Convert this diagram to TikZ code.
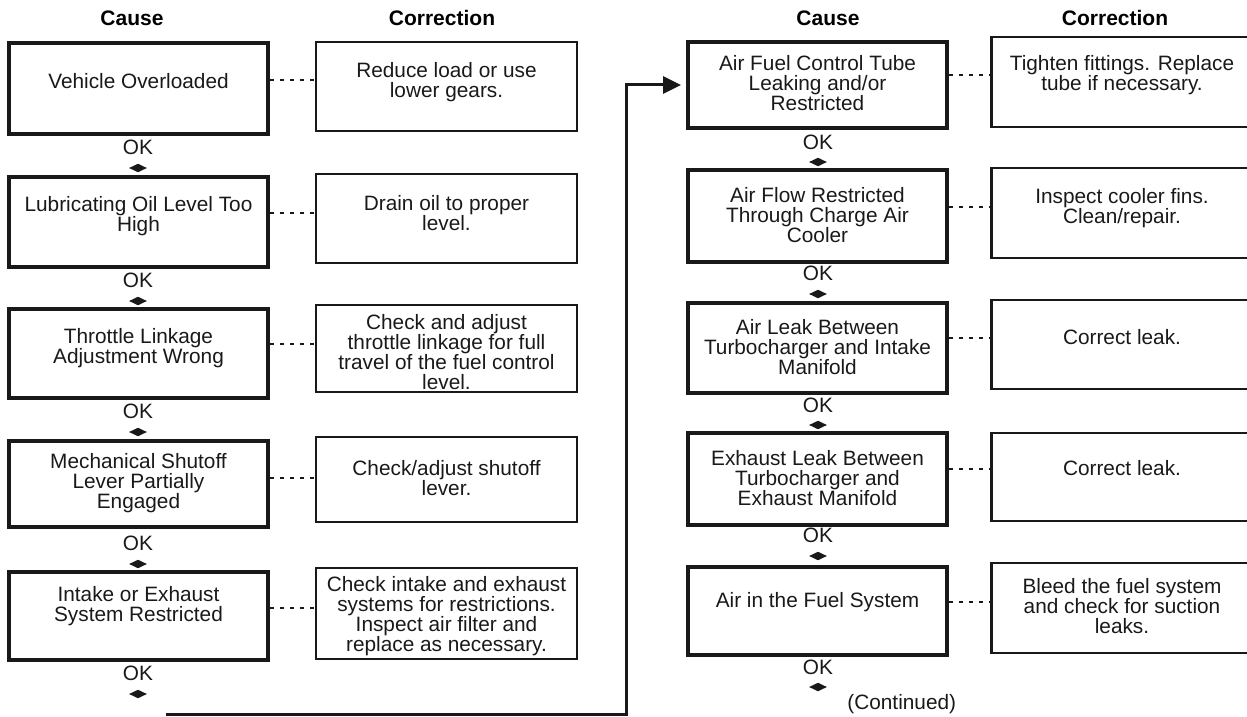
\documentclass[tikz,border=0pt]{standalone}
\usepackage{fontspec}
\setmainfont{Liberation Sans}
\usetikzlibrary{shapes.geometric,arrows.meta}
\begin{document}
\begin{tikzpicture}[x=0.5pt,y=-0.5pt,
  causebox/.style={draw=black!90, line width=2pt, minimum width=129.5pt, inner sep=0pt},
  corrbox/.style={draw=black!90, line width=1.1pt, minimum width=130.5pt, inner sep=0pt},
  txt/.style={font=\fontsize{10.4}{10}\selectfont, align=center, inner sep=0pt, text=black!90},
  head/.style={font=\fontsize{10.5}{11}\selectfont\bfseries, inner sep=0pt},
  oklbl/.style={font=\fontsize{10.4}{10}\selectfont, inner sep=0pt, text=black!90},
  okdia/.style={diamond, fill=black!90, draw=none, minimum width=9pt, minimum height=4.4pt, inner sep=0pt},
  dotline/.style={line width=0.9pt, dash pattern=on 2pt off 3pt, black!90},
  conn/.style={line width=1.5pt, black!90}
]
\useasboundingbox (0,0) rectangle (1247,717);
\clip (0,0) rectangle (1247,717);

% headers
\node[head] (h1) at (132,18) {Cause};
\node[head] (h2) at (442,18) {Correction};
\node[head] (h3) at (828,18) {Cause};
\node[head] (h4) at (1115,18) {Correction};

% left cause boxes
\node[causebox, minimum height=45.5pt] (c1) at (138.5,88.5) {};
\node[causebox, minimum height=45pt] (c2) at (138.5,222) {};
\node[causebox, minimum height=44.5pt] (c3) at (138.5,353.5) {};
\node[causebox, minimum height=43pt] (c4) at (138.5,484) {};
\node[causebox, minimum height=44pt] (c5) at (138.5,616) {};
\node[txt] (tc1) at (138.5,81) {Vehicle Overloaded};
\node[txt] (tc2) at (138.5,216) {Lubricating Oil Level Too\\High};
\node[txt] (tc3) at (138.5,348) {Throttle Linkage\\Adjustment Wrong};
\node[txt] (tc4) at (138.5,483) {Mechanical Shutoff\\Lever Partially\\Engaged};
\node[txt] (tc5) at (138.5,606) {Intake or Exhaust\\System Restricted};

% left correction boxes
\node[corrbox, minimum height=44.5pt] (k1) at (446.5,86.5) {};
\node[corrbox, minimum height=44.5pt] (k2) at (446.5,218.5) {};
\node[corrbox, minimum height=43.5pt] (k3) at (446.5,348.5) {};
\node[corrbox, minimum height=42.5pt] (k4) at (446.5,479.5) {};
\node[corrbox, minimum height=45.5pt] (k5) at (446.5,613.5) {};
\node[txt] (tk1) at (446.5,82) {Reduce load or use\\lower gears.};
\node[txt] (tk2) at (446.5,213) {Drain oil to proper\\level.};
\node[txt] (tk3) at (446.5,352) {Check and adjust\\throttle linkage for full\\travel of the fuel control\\level.};
\node[txt] (tk4) at (446.5,478) {Check/adjust shutoff\\lever.};
\node[txt] (tk5) at (446.5,616) {Check intake and exhaust\\systems for restrictions.\\Inspect air filter and\\replace as necessary.};

% right cause boxes
\node[causebox, minimum height=43pt] (r1) at (817.5,85) {};
\node[causebox, minimum height=46pt] (r2) at (817.5,216) {};
\node[causebox, minimum height=45pt] (r3) at (817.5,348) {};
\node[causebox, minimum height=46pt] (r4) at (817.5,479) {};
\node[causebox, minimum height=44pt] (r5) at (817.5,611) {};
\node[txt] (tr1) at (817.5,83) {Air Fuel Control Tube\\Leaking and/or\\Restricted};
\node[txt] (tr2) at (817.5,215) {Air Flow Restricted\\Through Charge Air\\Cooler};
\node[txt] (tr3) at (817.5,347) {Air Leak Between\\Turbocharger and Intake\\Manifold};
\node[txt] (tr4) at (817.5,478) {Exhaust Leak Between\\Turbocharger and\\Exhaust Manifold};
\node[txt] (tr5) at (817.5,602) {Air in the Fuel System};

% right correction boxes
\node[corrbox, minimum height=45pt] (q1) at (1122,82) {};
\node[corrbox, minimum height=45pt] (q2) at (1122,213) {};
\node[corrbox, minimum height=44.5pt] (q3) at (1122,344.5) {};
\node[corrbox, minimum height=44pt] (q4) at (1122,477) {};
\node[corrbox, minimum height=45pt] (q5) at (1122,608) {};
\node[txt] (tq1) at (1122,75) {Tighten fittings. Replace\\tube if necessary.};
\node[txt] (tq2) at (1122,208) {Inspect cooler fins.\\Clean/repair.};
\node[txt] (tq3) at (1122,337) {Correct leak.};
\node[txt] (tq4) at (1122,468) {Correct leak.};
\node[txt] (tq5) at (1122,606) {Bleed the fuel system\\and check for suction\\leaks.};

% dotted connectors
\draw[dotline] (c1.east |- 0,80) -- (k1.west |- 0,80);
\draw[dotline] (c2.east |- 0,213) -- (k2.west |- 0,213);
\draw[dotline] (c3.east |- 0,344) -- (k3.west |- 0,344);
\draw[dotline] (c4.east |- 0,478) -- (k4.west |- 0,478);
\draw[dotline] (c5.east |- 0,608) -- (k5.west |- 0,608);
\draw[dotline] (r1.east |- 0,75) -- (q1.west |- 0,75);
\draw[dotline] (r2.east |- 0,207) -- (q2.west |- 0,207);
\draw[dotline] (r3.east |- 0,338) -- (q3.west |- 0,338);
\draw[dotline] (r4.east |- 0,469) -- (q4.west |- 0,469);
\draw[dotline] (r5.east |- 0,602) -- (q5.west |- 0,602);

% OK labels and marks, left
\node[oklbl] (ok1) at (138,147) {OK};
\node[okdia] (m1) at (138,168) {};
\node[oklbl] (ok2) at (138,280) {OK};
\node[okdia] (m2) at (138,301) {};
\node[oklbl] (ok3) at (138,411) {OK};
\node[okdia] (m3) at (138,432) {};
\node[oklbl] (ok4) at (138,543) {OK};
\node[okdia] (m4) at (138,564) {};
\node[oklbl] (ok5) at (138,673) {OK};
\node[okdia] (m5) at (138,694) {};

% OK labels and marks, right
\node[oklbl] (ok6) at (818,142) {OK};
\node[okdia] (m6) at (818,162) {};
\node[oklbl] (ok7) at (818,273) {OK};
\node[okdia] (m7) at (818,294) {};
\node[oklbl] (ok8) at (818,405) {OK};
\node[okdia] (m8) at (818,425) {};
\node[oklbl] (ok9) at (818,535) {OK};
\node[okdia] (m9) at (818,556) {};
\node[oklbl] (ok10) at (818,667) {OK};
\node[okdia] (m10) at (818,687) {};
\node[oklbl, anchor=west] (cont) at (847,704) {(Continued)};

% continuation connector
\coordinate (ls) at (166,714);
\coordinate (vx) at (626,714);
\draw[conn, -{Triangle[length=9pt,width=8.5pt]}, shorten >=2.5pt] (ls) -- (vx) |- (r1.west);
\end{tikzpicture}
\end{document}
